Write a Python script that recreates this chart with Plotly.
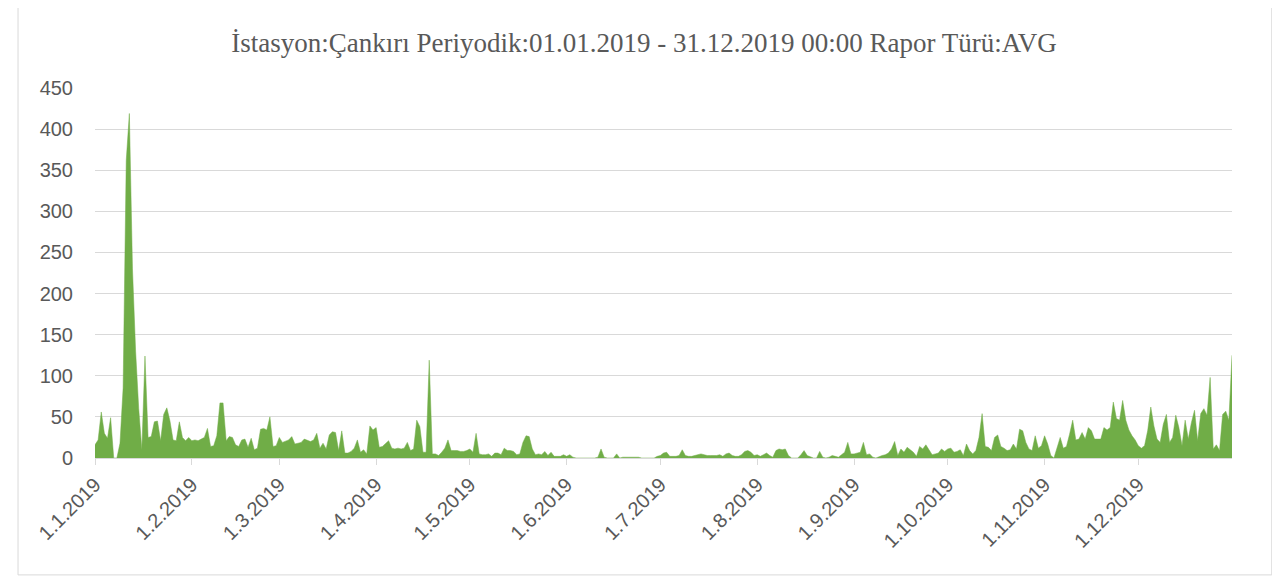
import pandas as pd
import plotly.graph_objects as go

# daily averages (one value per day, 2019)
jan = [16, 22, 56, 30, 24, 49, 0, 0, 18, 85, 362, 419, 230, 130, 60, 10,
       124, 25, 26, 44, 45, 21, 53, 61, 45, 22, 21, 44, 25, 21, 25]
feb = [21, 22, 21, 23, 25, 36, 14, 15, 27, 67, 67, 21, 26, 25, 16, 14,
       22, 23, 13, 24, 10, 12, 35, 36, 34, 50, 14, 15]
mar = [25, 19, 21, 22, 26, 17, 18, 19, 23, 21, 20, 22, 30, 12, 18, 11,
       28, 32, 31, 9, 33, 6, 6, 8, 12, 22, 7, 10, 5, 39, 34]
apr = [37, 13, 14, 17, 21, 12, 11, 12, 11, 12, 19, 9, 11, 46, 38, 7,
       7, 119, 5, 5, 3, 7, 12, 22, 9, 9, 9, 8, 8, 9]
may = [11, 7, 30, 5, 4, 4, 5, 2, 6, 6, 4, 12, 9, 9, 8, 4,
       5, 19, 27, 26, 11, 4, 5, 4, 8, 3, 7, 2, 2, 2, 4]
jun = [2, 4, 1, 0, 0, 0, 0, 0, 0, 0, 1, 11, 1, 0, 0, 0,
       5, 0, 1, 1, 1, 1, 1, 1, 0, 0, 0, 0, 0, 2]
jul = [3, 6, 7, 2, 2, 2, 3, 10, 3, 2, 2, 3, 4, 5, 4, 3,
       3, 3, 3, 4, 2, 5, 6, 3, 2, 2, 4, 8, 9, 7, 3]
aug = [4, 2, 4, 6, 3, 1, 9, 11, 10, 11, 3, 0, 0, 0, 4, 9,
       3, 1, 0, 0, 8, 1, 0, 1, 3, 2, 1, 4, 7, 19, 5]
sep = [5, 6, 7, 19, 4, 5, 1, 0, 2, 3, 4, 6, 11, 20, 3, 11,
       7, 13, 10, 7, 2, 14, 11, 16, 10, 4, 5, 6, 11, 8]
oct_ = [11, 12, 7, 8, 10, 3, 17, 9, 5, 9, 25, 54, 14, 13, 9, 25,
        28, 14, 12, 9, 10, 17, 11, 35, 33, 19, 11, 9, 27, 12, 15]
nov = [27, 17, 3, 0, 13, 25, 12, 14, 29, 46, 22, 23, 31, 23, 37, 33,
       23, 23, 23, 37, 34, 37, 68, 48, 46, 70, 46, 34, 27, 22]
dec = [15, 12, 15, 33, 62, 39, 23, 19, 41, 53, 19, 25, 52, 37, 15, 46,
       23, 43, 58, 21, 54, 60, 52, 98, 11, 16, 9, 53, 57, 46, 125]

values = jan + feb + mar + apr + may + jun + jul + aug + sep + oct_ + nov + dec
days = pd.date_range("2019-01-01", periods=len(values), freq="D")

month_starts = pd.date_range("2019-01-01", "2019-12-01", freq="MS")
month_labels = [f"1.{d.month}.2019" for d in month_starts]

title_text = "İstasyon:Çankırı Periyodik:01.01.2019 - 31.12.2019 00:00 Rapor Türü:AVG"

fig = go.Figure()
fig.add_trace(go.Scatter(
    x=days,
    y=values,
    mode="lines",
    line=dict(color="#70AD47", width=0.5),
    fill="tozeroy",
    fillcolor="#70AD47",
    hoverinfo="x+y",
))

# page has an 8px body margin, so the figure is a bit smaller than the window
fig.update_layout(
    width=1272,
    height=571,
    margin=dict(l=87, r=48, t=80, b=121),
    paper_bgcolor="white",
    plot_bgcolor="white",
    showlegend=False,
    title=dict(
        text=title_text,
        x=0.5,
        xanchor="center",
        y=0.94,
        yanchor="middle",
        font=dict(family="Liberation Serif", size=27, color="#595959"),
    ),
    font=dict(family="Liberation Sans", color="#595959"),
    xaxis=dict(
        range=[days[0], days[-1]],
        tickvals=month_starts,
        ticktext=month_labels,
        tickangle=-45,
        tickfont=dict(size=20, color="#595959"),
        showgrid=False,
        showline=True,
        linecolor="#D9D9D9",
        linewidth=1,
        ticks="outside",
        ticklen=6,
        tickcolor="#D9D9D9",
        zeroline=False,
    ),
    yaxis=dict(
        range=[0, 450],
        tickvals=list(range(0, 451, 50)),
        tickfont=dict(size=20, color="#595959"),
        showgrid=True,
        gridcolor="#D9D9D9",
        gridwidth=1,
        zeroline=False,
        showline=False,
        ticklabelstandoff=21,
    ),
    shapes=[dict(
        type="rect", xref="paper", yref="paper",
        x0=-0.0677, x1=1.035, y0=-0.316, y1=1.227,
        line=dict(color="#D9D9D9", width=1),
    )],
)

fig.write_html("out.html")
